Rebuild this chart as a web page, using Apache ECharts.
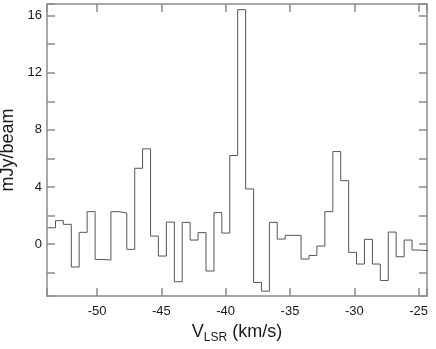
<!DOCTYPE html>
<html>
<head>
<meta charset="utf-8">
<script src="https://cdn.jsdelivr.net/npm/echarts@6/dist/echarts.min.js"></script>
<style>
html,body{margin:0;padding:0;background:#fff;}
#c{width:436px;height:349px;}
</style>
</head>
<body>
<div id="c"></div>
<script>
// Channel left-edge velocities (km/s) and flux densities (mJy/beam)
var channelStart = [-53.85,-53.23,-52.62,-52.00,-51.39,-50.77,-50.15,-49.54,-48.92,-48.31,
  -47.69,-47.07,-46.46,-45.84,-45.23,-44.61,-43.99,-43.38,-42.76,-42.15,
  -41.53,-40.91,-40.30,-39.68,-39.07,-38.45,-37.83,-37.22,-36.60,-35.99,
  -35.37,-34.75,-34.14,-33.52,-32.91,-32.29,-31.67,-31.06,-30.44,-29.83,
  -29.21,-28.59,-27.98,-27.36,-26.75,-26.13,-25.51,-24.90];
var lastChannelEnd = -24.28;
var flux = [1.14,1.64,1.38,-1.61,0.82,2.27,-1.08,-1.12,2.27,2.18,
  -0.37,5.31,6.67,0.56,-0.84,1.54,-2.64,1.52,0.28,0.80,
  -1.89,2.20,0.77,6.20,16.42,3.86,-2.69,-3.30,1.52,0.35,
  0.61,0.61,-1.05,-0.80,-0.14,2.27,6.48,4.44,-0.58,-1.40,
  0.33,-1.40,-2.55,0.84,-0.89,0.28,-0.42,-0.47];
var xTicks = [-50,-45,-40,-35,-30,-25];
var yTicks = [0,4,8,12,16];

var xMin = -53.89, xMax = -24.35, yMin = -3.64, yMax = 16.82;

var data = channelStart.map(function(v,i){return [v, flux[i]];});
data.push([lastChannelEnd, flux[flux.length-1]]);

var font = 'Liberation Sans, Arial, Helvetica, sans-serif';
var frameColor = '#8c8c8c';
var textColor = '#1a1a1a';

function near(v, arr){ for (var i=0;i<arr.length;i++){ if (Math.abs(v-arr[i])<1e-6) return true;} return false; }

var lineCfg = {show:true, onZero:false, lineStyle:{color:frameColor, width:1.5}};
var tickCfg = {show:true, inside:true, length:8, lineStyle:{color:frameColor, width:1.5}};

var chart = echarts.init(document.getElementById('c'), null, {renderer:'canvas'});
chart.setOption({
  animation:false,
  backgroundColor:'#fff',
  grid:{left:47, right:9, top:4, bottom:53, containLabel:false, outerBoundsMode:'none'},
  xAxis:[{
    type:'value', min:xMin, max:xMax, splitNumber:5, position:'bottom',
    name:'{a|V}{s|LSR}{a| (km/s)}', nameLocation:'middle', nameGap:24,
    nameTextStyle:{color:textColor, fontFamily:font, fontSize:18,
      rich:{a:{fontSize:18, fontFamily:font, color:textColor},
            s:{fontSize:12, fontFamily:font, color:textColor, verticalAlign:'bottom', padding:[0,0,-3,0]}}},
    axisLine:lineCfg, axisTick:tickCfg,
    axisLabel:{margin:9, color:textColor, fontFamily:font, fontSize:13,
      formatter:function(v){ return near(v,xTicks) ? String(v) : ''; }},
    splitLine:{show:false}
  },{
    type:'value', min:xMin, max:xMax, splitNumber:5, position:'top',
    axisLine:lineCfg, axisTick:tickCfg,
    axisLabel:{show:false}, splitLine:{show:false}
  }],
  yAxis:[{
    type:'value', min:yMin, max:yMax, splitNumber:10, position:'left',
    name:'mJy/beam', nameLocation:'middle', nameGap:30, nameRotate:90,
    nameTextStyle:{color:textColor, fontFamily:font, fontSize:18},
    axisLine:lineCfg, axisTick:tickCfg,
    axisLabel:{margin:5, color:textColor, fontFamily:font, fontSize:13,
      formatter:function(v){ return near(v,yTicks) ? String(v) : ''; }},
    splitLine:{show:false}
  },{
    type:'value', min:yMin, max:yMax, splitNumber:10, position:'right',
    axisLine:lineCfg, axisTick:tickCfg,
    axisLabel:{show:false}, splitLine:{show:false}
  }],
  series:[{
    type:'line', xAxisIndex:0, yAxisIndex:0, data:data, step:'end',
    showSymbol:false, symbol:'none', clip:true,
    lineStyle:{color:'#555', width:1}
  }]
});
</script>
</body>
</html>
